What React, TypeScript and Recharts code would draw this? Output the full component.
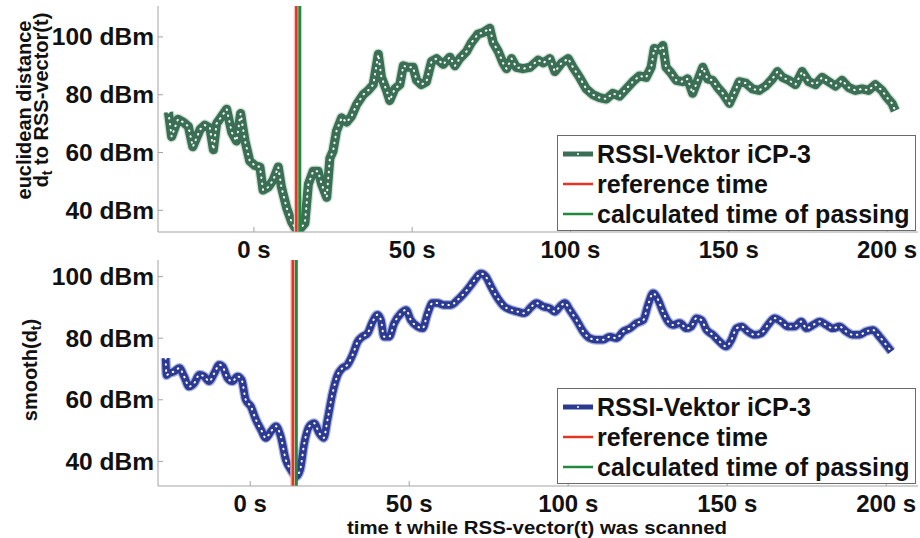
import { Line, LineChart, ReferenceLine, XAxis, YAxis } from "recharts";

// euclidean distance d_t (raw)
const topTime = [
  -27, -26, -24, -22.3, -20.7, -19.3, -17, -15.5, -13.9, -12.8,
  -11.8, -10.2, -8.6, -7, -5.5, -4.2, -2.8, -1.3, 0.3, 1.9,
  2.9, 4.5, 6.1, 7.7, 8.7, 10.3, 11.9, 13, 14.5, 16.1,
  17.2, 18.7, 20.3, 21.4, 23, 24, 25, 26.1, 27.7, 29.3,
  30.8, 32.4, 34.5, 36.1, 37.7, 39.3, 40.3, 41.9, 42.9, 44.5,
  46.1, 47.2, 48.7, 50.3, 51.4, 52.9, 54.5, 56.1, 57.7, 59.8,
  61.9, 63.5, 65, 67.2, 68.7, 70.8, 72.4, 74.5, 75.6, 77.2,
  78.7, 79.8, 81.4, 82.9, 85, 87.2, 89.8, 91.4, 93.5, 95.1,
  97.2, 99.3, 100.8, 102.9, 105, 107.1, 109.2, 111.3, 113.4, 115.5,
  117.6, 119.7, 121.8, 123.9, 125.5, 126.5, 128.1, 129.2, 130.2, 131.8,
  133.4, 135.5, 137, 138.6, 140.2, 141.8, 143.3, 144.9, 146.5, 148.1,
  150.2, 151.7, 153.3, 155.4, 157.5, 159.6, 161.7, 163.8, 165.4, 167,
  169, 171.1, 173.2, 175.3, 177.4, 179.5, 181.6, 183.7, 185.8, 187.9,
  190, 192.1, 194.2, 196.3, 198.4, 200, 201.6, 202.6,
];
const topDist = [
  74, 65.5, 71.5, 70.5, 69, 62, 68, 69.5, 68.5, 61,
  70, 72.5, 75, 67, 64, 73.5, 64, 57, 55.5, 55,
  47, 48, 50.5, 55, 48, 41, 36, 34, 33.5, 35.5,
  49, 53.5, 53.5, 49, 44.5, 58, 60.5, 67.5, 72, 70.5,
  72.5, 76.5, 80, 81.5, 83.5, 94, 86, 81.5, 78, 82,
  83.5, 90, 89.5, 89.5, 85, 83.5, 84.5, 91.5, 92.5, 90.5,
  93, 90, 92.5, 95, 98, 101, 101.5, 103, 98, 95,
  91, 89, 92.5, 89.5, 89, 89.5, 92, 91, 92.5, 88,
  91, 92.5, 89.5, 86, 82, 80, 79, 78.5, 80.5, 79.5,
  82, 84.5, 86.5, 86, 89.5, 96, 95.5, 97, 89.5, 87.5,
  85, 84.5, 85.5, 80.5, 85, 89.5, 85.5, 85, 82.5, 80.5,
  77, 80.5, 84.5, 84, 82, 81.5, 83, 85.5, 88, 86,
  85, 83.5, 88, 84.5, 83.5, 86, 84.5, 83, 85, 82.5,
  81.5, 82, 81.5, 83.5, 81.5, 79, 77, 74.5,
];

// smooth(d_t), lower panel
const smoothTime = [
  -26.6, -26.3, -25.5, -23.9, -22.3, -20.8, -19.2, -17.6, -16, -14.5,
  -12.9, -11.3, -9.7, -8.7, -7.1, -5.6, -4, -2.7, -1.4, 0.2,
  1.8, 3.4, 4.9, 6.5, 8.1, 9.6, 11.2, 12.8, 14.4, 15.7,
  17, 18.6, 20.1, 21.7, 23.1, 24.3, 25.9, 27.5, 29, 30.6,
  32.2, 33.8, 35.3, 36.9, 38.5, 40, 41.1, 42.1, 43.7, 45.3,
  47.4, 49, 50.5, 52.6, 54.2, 55.8, 57.3, 58.9, 61, 63.1,
  65.2, 67.3, 69.4, 71, 72.5, 74.1, 75.7, 77.8, 79.9, 82,
  84.1, 86.2, 88.5, 90, 92.1, 94.2, 95.8, 97.4, 99, 100.5,
  102.6, 104.7, 106.8, 108.9, 111, 113.1, 115.2, 117.3, 119.4, 121.5,
  123.6, 125.1, 126.7, 128.3, 129.8, 131.4, 133, 135.1, 137.2, 138.7,
  140.3, 141.9, 143.5, 145.5, 147.6, 149.7, 151.3, 152.9, 154.5, 156.5,
  158.6, 160.7, 162.8, 164.9, 167, 169.1, 171.2, 173.3, 174.9, 177,
  179.1, 181.2, 183.2, 185.3, 187.4, 189.5, 191.6, 193.7, 195.8, 197.9,
  200, 201.6,
];
const smoothDist = [
  73.5, 68, 68.6, 69.2, 70.3, 67.6, 64.3, 65.4, 68.1, 67.6,
  66, 68.6, 71.4, 70.8, 67, 66, 67.6, 66.5, 60, 57.8,
  53.5, 50.3, 47.6, 49.7, 51.4, 48.1, 40.5, 37.3, 35.1, 37.3,
  45.9, 51.4, 52.4, 49.2, 47.6, 53.5, 62.2, 68.1, 70.3, 71.4,
  74.6, 78.9, 80.5, 81.6, 85.4, 87.6, 85.9, 80.5, 80.5, 84.9,
  88.1, 89.2, 85.9, 83.8, 83.2, 88.1, 91.4, 91.4, 90.8, 90.8,
  92.4, 94.6, 97.3, 99.5, 101, 100, 96.8, 93, 90.3, 89.2,
  88.6, 88.1, 90.3, 91.4, 90.3, 89.7, 88.6, 90.3, 91.4, 89.2,
  85.9, 82.2, 80, 79.5, 79.5, 80.5, 80, 82.2, 83.2, 84.9,
  85.9, 90.8, 94.6, 92.4, 88.6, 85.4, 84.3, 84.9, 83.2, 83.8,
  86.5, 85.9, 82.7, 81.1, 78.9, 77.3, 79.5, 83.2, 83.8, 82.2,
  81.1, 81.6, 84.3, 86.5, 85.4, 83.8, 83.8, 85.4, 83.2, 84.3,
  85.4, 84.3, 83.2, 83.8, 82.2, 81.1, 81.1, 82.2, 82.7, 80.5,
  77.8, 75.7,
];

const xTicks = [0, 50, 100, 150, 200];
const yTicks = [40, 60, 80, 100];
const refTime = 13.4;
const passTime = 14.5;
const legendLabels = ["RSSI-Vektor iCP-3", "reference time", "calculated time of passing"];

const FONT = '"Liberation Sans", Arial, Helvetica, sans-serif';
const AXIS = "#a3a3a3";
const RED = "#e33524";
const PASS_GREEN = "#1f8a3e";

const topData = topTime.map((t, i) => ({ t, v: topDist[i] }));
const smoothData = smoothTime.map((t, i) => ({ t, v: smoothDist[i] }));

const labelStyle = { fontFamily: FONT, fontWeight: 700, fill: "#111" };

function BottomTick(props: any) {
  const { x, y, payload } = props;
  return (
    <g>
      <line x1={x} x2={x} y1={y} y2={y - 5} stroke={AXIS} />
      <text x={x} y={y + 26} textAnchor="middle" fontSize={24} style={labelStyle}>
        {`${payload.value} s`}
      </text>
    </g>
  );
}

function TopTick(props: any) {
  const { x, y } = props;
  return <line x1={x} x2={x} y1={y} y2={y + 5} stroke={AXIS} />;
}

function LeftTick(props: any) {
  const { x, y, payload } = props;
  return (
    <g>
      <line x1={x} x2={x + 5} y1={y} y2={y} stroke={AXIS} />
      <text x={x - 4} y={y + 8.5} textAnchor="end" fontSize={24.5} style={labelStyle}>
        {`${payload.value} dBm`}
      </text>
    </g>
  );
}

function RightTick(props: any) {
  const { x, y } = props;
  return <line x1={x} x2={x - 5} y1={y} y2={y} stroke={AXIS} />;
}

type PanelProps = {
  data: { t: number; v: number }[];
  xDomain: [number, number];
  yDomain: [number, number];
  color: string;
  halo: string;
  width: number;
  smooth?: boolean;
};

function Panel({ data, xDomain, yDomain, color, halo, width, smooth }: PanelProps) {
  const curve = smooth ? "monotone" : "linear";
  return (
    <LineChart width={920} height={270} data={data} margin={{ top: 6, right: 2, bottom: 0, left: 0 }}>
      <XAxis
        dataKey="t"
        type="number"
        domain={xDomain}
        allowDataOverflow
        ticks={xTicks}
        interval={0}
        height={38}
        tickSize={0}
        tickMargin={0}
        tickLine={false}
        tick={<BottomTick />}
        axisLine={{ stroke: AXIS }}
      />
      <XAxis
        xAxisId="top"
        orientation="top"
        dataKey="t"
        type="number"
        domain={xDomain}
        allowDataOverflow
        ticks={xTicks}
        interval={0}
        height={0}
        tickSize={0}
        tickMargin={0}
        tickLine={false}
        tick={<TopTick />}
        axisLine={{ stroke: AXIS }}
      />
      <YAxis
        type="number"
        domain={yDomain}
        allowDataOverflow
        ticks={yTicks}
        interval={0}
        width={158}
        tickSize={0}
        tickMargin={0}
        tickLine={false}
        tick={<LeftTick />}
        axisLine={{ stroke: AXIS }}
      />
      <YAxis
        yAxisId="right"
        orientation="right"
        type="number"
        domain={yDomain}
        allowDataOverflow
        ticks={yTicks}
        interval={0}
        width={0}
        tickSize={0}
        tickMargin={0}
        tickLine={false}
        tick={<RightTick />}
        axisLine={{ stroke: AXIS }}
      />
      <Line
        type={curve}
        dataKey="v"
        stroke={halo}
        strokeWidth={width + 2.5}
        strokeLinejoin="round"
        dot={false}
        activeDot={false}
        isAnimationActive={false}
      />
      <Line
        type={curve}
        dataKey="v"
        stroke={color}
        strokeWidth={width}
        strokeLinejoin="round"
        dot={false}
        activeDot={false}
        isAnimationActive={false}
      />
      <Line
        type={curve}
        dataKey="v"
        stroke="#ffffff"
        strokeWidth={2}
        strokeLinecap="round"
        strokeDasharray="0.5 5.5"
        dot={false}
        activeDot={false}
        isAnimationActive={false}
      />
      <ReferenceLine x={refTime} stroke="#f6c1ba" strokeWidth={5} />
      <ReferenceLine x={refTime} stroke={RED} strokeWidth={2.5} />
      <ReferenceLine x={passTime} stroke={PASS_GREEN} strokeWidth={3} />
    </LineChart>
  );
}

function LegendBox({ top, color }: { top: number; color: string }) {
  const samples = [
    <svg width={30} height={12} key="s">
      <line x1={0} x2={30} y1={6} y2={6} stroke={color} strokeWidth={5} />
      <circle cx={15} cy={6} r={1} fill="#fff" />
    </svg>,
    <svg width={30} height={12} key="r">
      <line x1={0} x2={30} y1={6} y2={6} stroke={RED} strokeWidth={2.5} />
    </svg>,
    <svg width={30} height={12} key="g">
      <line x1={0} x2={30} y1={6} y2={6} stroke={PASS_GREEN} strokeWidth={2.5} />
    </svg>,
  ];
  return (
    <div
      style={{
        position: "absolute",
        left: 557,
        top,
        width: 359,
        height: 96,
        border: "1px solid #6a6a6a",
        background: "#fff",
        paddingTop: 3,
        boxSizing: "border-box",
      }}
    >
      {legendLabels.map((label, i) => (
        <div key={label} style={{ display: "flex", alignItems: "center", height: 30 }}>
          <div style={{ marginLeft: 5, width: 30, height: 12, display: "flex" }}>{samples[i]}</div>
          <span
            style={{
              marginLeft: 4,
              fontFamily: FONT,
              fontWeight: 700,
              fontSize: 25,
              color: "#111",
              whiteSpace: "nowrap",
            }}
          >
            {label}
          </span>
        </div>
      ))}
    </div>
  );
}

export default function App() {
  return (
    <div style={{ position: "absolute", left: 0, top: 0, width: 920, height: 538, background: "#fff" }}>
      <div style={{ position: "absolute", left: 0, top: 0 }}>
        <Panel
          data={topData}
          xDomain={[-30.3, 209.8]}
          yDomain={[32.5, 110.7]}
          color="#3b6f55"
          halo="#d3e2d8"
          width={9}
        />
      </div>
      <div style={{ position: "absolute", left: 0, top: 254 }}>
        <Panel
          data={smoothData}
          xDomain={[-29, 210]}
          yDomain={[32, 105.4]}
          color="#2c3a91"
          halo="#aab4e0"
          width={7.5}
          smooth
        />
      </div>
      <LegendBox top={135} color="#3b6f55" />
      <LegendBox top={388} color="#2c3a91" />
      <svg
        width={920}
        height={538}
        style={{ position: "absolute", left: 0, top: 0, pointerEvents: "none" }}
      >
        <g style={labelStyle} fontSize={20}>
          <text transform="translate(24 110) rotate(-90)" textAnchor="middle" dominantBaseline="central">
            euclidean distance
          </text>
          <text transform="translate(41 100) rotate(-90)" textAnchor="middle" dominantBaseline="central">
            d<tspan fontSize={14} dy={6}>t</tspan>
            <tspan dy={-6}> to RSS-vector(t)</tspan>
          </text>
          <text transform="translate(30 370) rotate(-90)" textAnchor="middle" dominantBaseline="central">
            smooth(d<tspan fontSize={14} dy={6}>t</tspan>
            <tspan dy={-6}>)</tspan>
          </text>
        </g>
        <text
          x={537}
          y={534}
          textAnchor="middle"
          fontSize={18}
          textLength={380}
          lengthAdjust="spacingAndGlyphs"
          style={labelStyle}
        >
          time t while RSS-vector(t) was scanned
        </text>
      </svg>
    </div>
  );
}
